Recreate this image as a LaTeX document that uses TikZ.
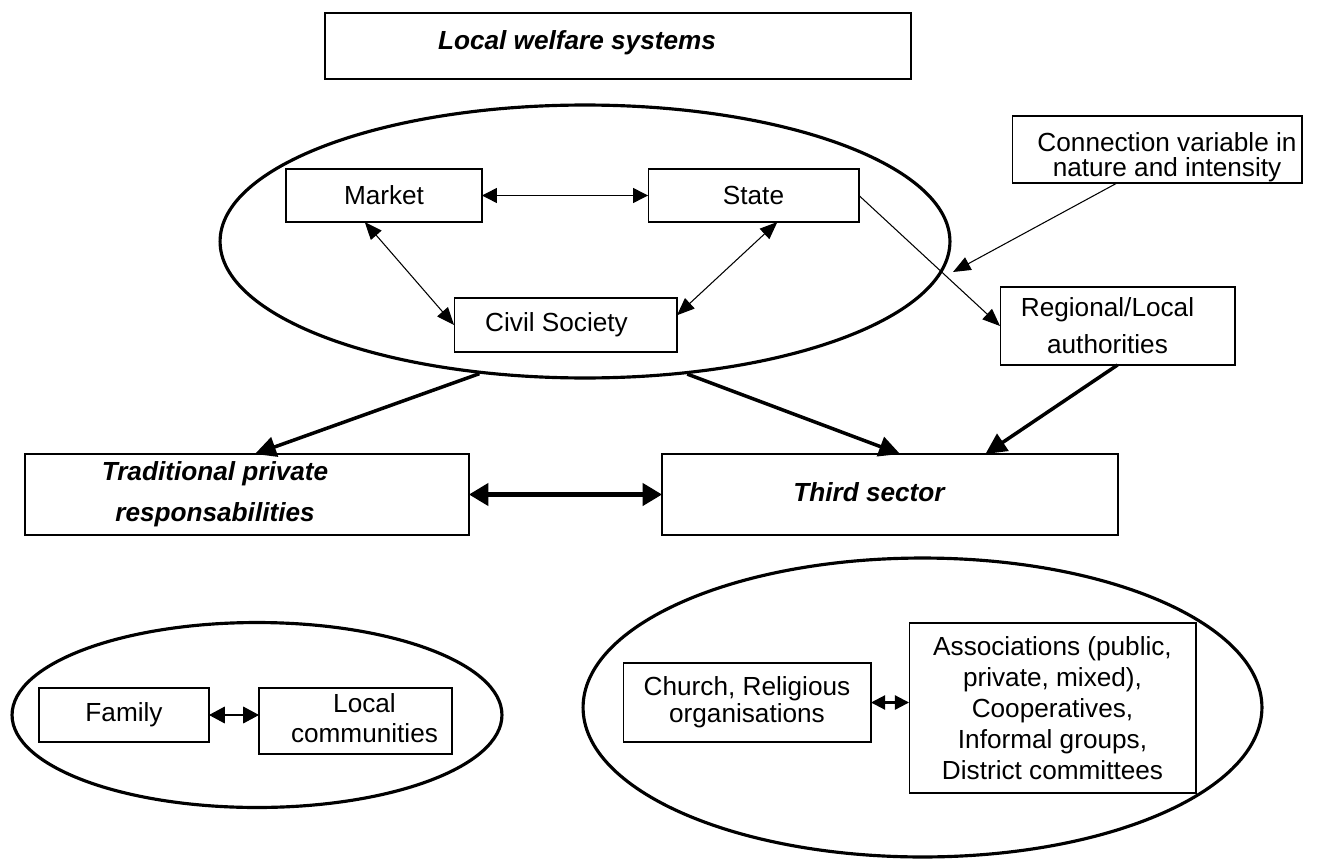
\documentclass[tikz,border=0pt]{standalone}
\usepackage{fontspec}
\setmainfont{Liberation Sans}
\usetikzlibrary{shapes.geometric,arrows.meta}
\tikzset{
  box/.style={draw, line width=0.6pt, inner sep=0pt, outer sep=0pt, align=center, font=\fontsize{14.9}{17}\selectfont},
  bigbox/.style={box, line width=1.2pt},
  ring/.style={draw, ellipse, line width=1.8pt, inner sep=0pt, outer sep=0pt},
  lbl/.style={align=center, inner sep=0pt, font=\fontsize{14.9}{17}\selectfont},
  lblbf/.style={lbl, font=\fontsize{14.9}{23.2}\selectfont\bfseries\itshape},
  link/.style={line width=0.6pt, >={Triangle[length=10pt,width=8pt]}},
  flow/.style={line width=2pt, >={Triangle[length=12pt,width=11.5pt]}},
}
\begin{document}
\begin{tikzpicture}[x=0.02cm, y=-0.02cm]
\useasboundingbox (0,0) rectangle (1317,858);
\node[ring, minimum width=14.6cm, minimum height=5.46cm] (welfare) at (585,241.5) {};
\node[ring, minimum width=9.8cm, minimum height=3.7cm] (private) at (257,715) {};
\node[ring, minimum width=13.58cm, minimum height=5.98cm] (sector) at (922.5,707.5) {};
\node[bigbox, minimum width=11.72cm, minimum height=1.32cm,
  label={[lblbf, xshift=-0.82cm, yshift=0.06cm]center:Local welfare systems}] (title) at (618,46) {};
\node[box, minimum width=3.92cm, minimum height=1.06cm] (market) at (384,195.5) {Market};
\node[box, minimum width=4.22cm, minimum height=1.06cm] (state) at (753.5,195.5) {State};
\node[box, minimum width=4.46cm, minimum height=1.08cm,
  label={[lbl, xshift=-0.18cm]center:Civil Society}] (civil) at (565.5,325) {};
\node[box, minimum width=5.8cm, minimum height=1.34cm,
  label={[lbl, font=\fontsize{14.9}{14.2}\selectfont, xshift=0.2cm, yshift=-0.16cm]center:Connection variable in\\nature and intensity}] (conn) at (1157,149.5) {};
\coordinate (cv) at (953,272);
\node[box, minimum width=4.7cm, minimum height=1.56cm,
  label={[lbl, font=\fontsize{14.9}{21}\selectfont, xshift=-0.2cm]center:Regional/Local\\authorities}] (regional) at (1117.5,326) {};
\node[bigbox, minimum width=8.88cm, minimum height=1.62cm,
  label={[lblbf, xshift=-0.64cm]center:Traditional private\\responsabilities}] (trad) at (247,494.5) {};
\node[bigbox, minimum width=9.12cm, minimum height=1.62cm,
  label={[lblbf, xshift=-0.42cm, yshift=0.05cm]center:Third sector}] (third) at (890,494.5) {};
\node[box, minimum width=3.4cm, minimum height=1.08cm] (family) at (124,715) {Family};
\node[box, minimum width=3.86cm, minimum height=1.32cm,
  label={[lbl, xshift=0.18cm, yshift=0.06cm]center:Local\\communities}] (local) at (355.5,721) {};
\node[box, minimum width=4.96cm, minimum height=1.58cm, font=\fontsize{14.9}{15.3}\selectfont] (church) at (747,702.5) {Church, Religious\\organisations};
\node[box, minimum width=5.74cm, minimum height=3.4cm, font=\fontsize{14.9}{17.6}\selectfont] (assoc) at (1052.5,708) {Associations (public,\\private, mixed),\\Cooperatives,\\Informal groups,\\District committees};
\draw[link, <->, line width=0.8pt, >={Triangle[length=8.5pt,width=8.5pt]}] (market.east) -- (state.west);
\draw[link, <->] (market.234) -- (civil.west);
\draw[link, <->] (state.312) -- (civil.5);
\draw[link, ->] (state.east) -- (regional.west);
\draw[link, ->] (conn.220) -- (cv);
\draw[flow, ->, shorten <=2pt] (welfare.232) -- (trad.79);
\draw[flow, ->, shorten <=2pt] (welfare.307) -- (third.76);
\draw[flow, ->] (regional.south) -- (third.23);
\draw[flow, <->, line width=2.3pt, >={Triangle[length=11pt,width=12.5pt]}] (trad.east) -- (third.west);
\draw[link, <->, >={Triangle[length=9pt,width=9.5pt]}] (family.east) -- (family.east -| local.west);
\draw[link, <->, line width=1.2pt, >={Triangle[length=8pt,width=8pt]}] (church.east) -- (church.east -| assoc.west);
\end{tikzpicture}
\end{document}
